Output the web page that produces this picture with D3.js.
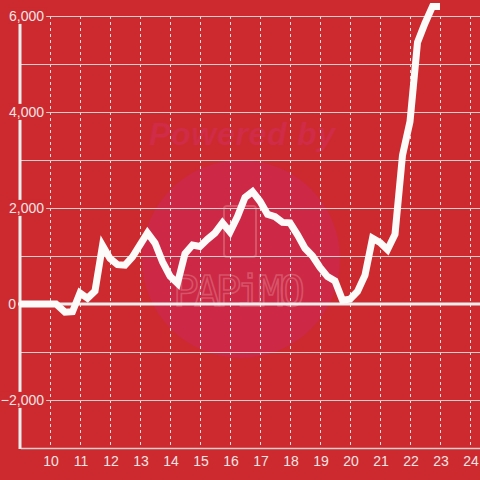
<!DOCTYPE html>
<html>
<head>
<meta charset="utf-8">
<script src="https://cdn.jsdelivr.net/npm/d3@7"></script>
<style>
  body { margin: 0; background: #cc2a2f; }
  svg { display: block; }
  text { font-family: "Liberation Sans", Arial, sans-serif; }
</style>
</head>
<body>
<div id="chart"></div>
<script>
// data
var hours = [9.0, 10.2, 10.5, 10.75, 11.0, 11.25, 11.5, 11.75, 12.0, 12.25, 12.5, 12.75,
  13.0, 13.25, 13.5, 13.75, 14.0, 14.25, 14.5, 14.75, 15.0, 15.25, 15.5, 15.75,
  16.0, 16.25, 16.5, 16.75, 17.0, 17.25, 17.5, 17.75, 18.0, 18.25, 18.5, 18.75,
  19.0, 19.25, 19.5, 19.75, 20.0, 20.25, 20.5, 20.75, 21.0, 21.25, 21.5, 21.75,
  22.0, 22.25, 22.5, 22.75, 23.0];
var values = [0, 0, -170, -160, 230, 120, 270, 1220, 950, 820, 810, 980,
  1230, 1480, 1270, 880, 580, 430, 1050, 1230, 1200, 1350, 1480, 1690,
  1500, 1820, 2220, 2340, 2140, 1870, 1820, 1700, 1690, 1440, 1160, 1000,
  760, 570, 480, 80, 100, 260, 600, 1370, 1280, 1130, 1450, 3100,
  3800, 5450, 5850, 6200, 6200];
var xTicks = [10, 11, 12, 13, 14, 15, 16, 17, 18, 19, 20, 21, 22, 23, 24];
var yGrid = [-3000, -2000, -1000, 0, 1000, 2000, 3000, 4000, 5000, 6000];
var yLabels = [-2000, 0, 2000, 4000, 6000];

var width = 480, height = 480;
var bg = "#cc2a2f";

var x = d3.scaleLinear().domain([9, 24.3333]).range([20, 480]);
var y = d3.scaleLinear().domain([-3000, 6000]).range([448, 16]);

var svg = d3.select("#chart").append("svg")
    .attr("width", width)
    .attr("height", height);

svg.append("rect").attr("width", width).attr("height", height).attr("fill", bg);

// watermark
var wm = svg.append("g");
wm.append("circle").attr("cx", 241).attr("cy", 259).attr("r", 99).attr("fill", "#cd2846");
wm.append("text")
  .attr("x", 242).attr("y", 145)
  .attr("text-anchor", "middle")
  .attr("textLength", 186)
  .style("font-size", "32px").style("font-weight", "bold").style("font-style", "italic")
  .attr("fill", "#d02b47")
  .text("Powered by");
wm.append("rect").attr("x", 224).attr("y", 206).attr("width", 32).attr("height", 51).attr("rx", 3)
  .attr("fill", "none").attr("stroke", "#d65468").attr("stroke-width", 2);
wm.append("text")
  .attr("x", 173).attr("y", 306)
  .attr("textLength", 132)
  .attr("lengthAdjust", "spacing")
  .style("font-family", "'DejaVu Sans Mono', monospace")
  .style("font-size", "43px")
  .attr("fill", "none").attr("stroke", "#d65468").attr("stroke-width", 1.6)
  .text("PAPiMO");

// vertical dashed grid
svg.append("g").selectAll("line")
  .data(xTicks)
  .enter().append("line")
    .attr("x1", function(d) { return x(d) + 0.5; })
    .attr("x2", function(d) { return x(d) + 0.5; })
    .attr("y1", y(6000))
    .attr("y2", y(-3000))
    .attr("stroke", "#e8dede")
    .attr("stroke-width", 1)
    .attr("stroke-dasharray", "3,3");

// horizontal grid
svg.append("g").selectAll("line")
  .data(yGrid.filter(function(d) { return d !== 0; }))
  .enter().append("line")
    .attr("x1", 21)
    .attr("x2", 480)
    .attr("y1", function(d) { return y(d) + 0.5; })
    .attr("y2", function(d) { return y(d) + 0.5; })
    .attr("stroke", "#d9cfcf")
    .attr("stroke-width", function(d) { return d === -3000 ? 1.5 : 1; });

// zero line
svg.append("line")
  .attr("x1", 18).attr("x2", 480)
  .attr("y1", y(0)).attr("y2", y(0))
  .attr("stroke", "#f2eeee").attr("stroke-width", 3);

// y axis line
svg.append("line")
  .attr("x1", x(9)).attr("x2", x(9))
  .attr("y1", y(6000)).attr("y2", y(-3000) + 1)
  .attr("stroke", "#f2eeee").attr("stroke-width", 3);

// data line
var line = d3.line()
  .x(function(d, i) { return x(hours[i]); })
  .y(function(d) { return y(d); });

svg.append("path")
  .datum(values)
  .attr("d", line)
  .attr("fill", "none")
  .attr("stroke", "#fdfafa")
  .attr("stroke-width", 7)
  .attr("stroke-linejoin", "miter");

// y labels with background masks
var yl = svg.append("g").selectAll("g")
  .data(yLabels)
  .enter().append("g")
    .attr("transform", function(d) { return "translate(" + (d === 0 ? 16 : 44) + "," + y(d) + ")"; });

yl.append("text")
  .attr("text-anchor", "end")
  .attr("dy", "0.35em")
  .style("font-size", "14px")
  .attr("fill", "#f5e4e4")
  .text(function(d) { return d3.format(",")(d); });

yl.each(function(d) {
  if (d === 0) return;
  var g = d3.select(this);
  var bb = g.select("text").node().getBBox();
  g.insert("rect", "text")
    .attr("x", bb.x - 2).attr("y", bb.y)
    .attr("width", bb.width + 4).attr("height", bb.height)
    .attr("fill", bg);
});

// x labels
svg.append("g").selectAll("text")
  .data(xTicks)
  .enter().append("text")
    .attr("x", function(d) { return x(d) + 1; })
    .attr("y", 466)
    .attr("text-anchor", "middle")
    .style("font-size", "14px")
    .attr("fill", "#f5e4e4")
    .text(function(d) { return d; });
</script>
</body>
</html>
